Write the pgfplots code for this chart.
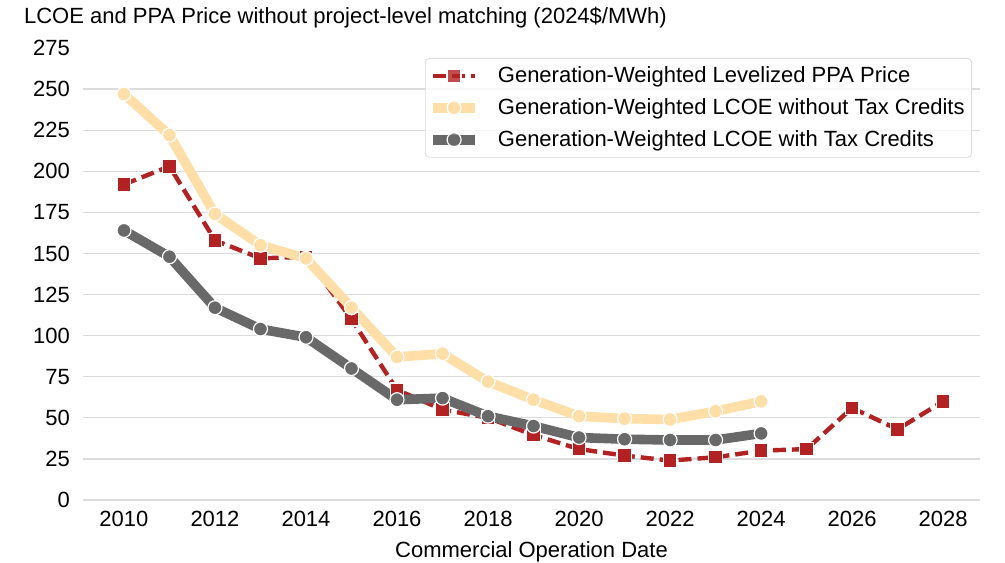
\documentclass[border=0pt]{standalone}
\usepackage{pgfplots}
\pgfplotsset{compat=1.18}
\usepackage{fontspec}
\setmainfont{Liberation Sans}

\definecolor{ppared}{HTML}{B22222}
\definecolor{lcoelight}{HTML}{FFDEA8}
\definecolor{lcoegrey}{HTML}{696969}
\definecolor{gridgrey}{HTML}{DCDCDC}

\begin{document}
\begin{tikzpicture}
\begin{axis}[
    scale only axis,
    width=448.5pt, height=226pt,
    xmin=2009.1, xmax=2028.81,
    ymin=0, ymax=275,
    xtick={2010,2012,...,2028},
    ytick={0,25,...,250},
    extra y ticks={275},
    extra y tick style={grid=none},
    ymajorgrids,
    grid style={gridgrey, line width=0.6pt},
    axis line style={draw=none},
    major tick length=0pt,
    tick label style={font=\fontsize{11}{13}\selectfont},
    yticklabel style={xshift=-3pt},
    xticklabel style={yshift=-2pt},
    /pgf/number format/assume math mode=true,
    /pgf/number format/1000 sep={},
    xlabel={Commercial Operation Date},
    xlabel style={font=\fontsize{11}{13}\selectfont, yshift=-0.5pt},
    title={LCOE and PPA Price without project-level matching (2024\$/MWh)},
    title style={at={(0,1)}, anchor=west, xshift=-33pt, yshift=9pt,
                 font=\fontsize{11}{13}\selectfont},
    legend style={at={(1,1)}, anchor=north east, xshift=-4pt, yshift=-5pt,
                  draw=gridgrey, rounded corners=2pt, fill=white,
                  fill opacity=0.8, text opacity=1,
                  font=\fontsize{11}{13}\selectfont, row sep=2.5pt,
                  inner xsep=1.5pt,
                  /tikz/every odd column/.append style={column sep=7pt}},
    legend cell align=left,
    legend image code/.code={
        \draw[mark repeat=2, mark phase=2]
          plot coordinates {(0pt,0pt) (10.5pt,0pt) (21pt,0pt)};},
    every axis plot/.append style={line join=round},
]
\coordinate (LL) at (rel axis cs:0,0);
\coordinate (UR) at (rel axis cs:1,1);
% PPA price
\addplot[ppared, line width=2.2pt, dash pattern=on 6.5pt off 3pt,
    mark=square*, mark size=3.4pt,
    mark options={solid, fill=ppared, draw=white, line width=0.6pt}]
  coordinates {
    (2010,192) (2011,203) (2012,158) (2013,147) (2014,148) (2015,110)
    (2016,67) (2017,55) (2018,50) (2019,39.5) (2020,31) (2021,27)
    (2022,24) (2023,26) (2024,30) (2025,31) (2026,56) (2027,43) (2028,60)};
\addlegendentry{Generation-Weighted Levelized PPA Price}
% LCOE without tax credits
\addplot[lcoelight, line width=4.8pt,
    mark=*, mark size=3.5pt,
    mark options={fill=lcoelight, draw=white, line width=0.6pt}]
  coordinates {
    (2010,247) (2011,222) (2012,174) (2013,155) (2014,147) (2015,117)
    (2016,87) (2017,89) (2018,72) (2019,61) (2020,51) (2021,49.5)
    (2022,49) (2023,54) (2024,60)};
\addlegendentry{Generation-Weighted LCOE without Tax Credits}
% LCOE with tax credits
\addplot[lcoegrey, line width=4.8pt,
    mark=*, mark size=3.5pt,
    mark options={fill=lcoegrey, draw=white, line width=0.6pt}]
  coordinates {
    (2010,164) (2011,148) (2012,117) (2013,104) (2014,99) (2015,80)
    (2016,61) (2017,62) (2018,51) (2019,45) (2020,38) (2021,37)
    (2022,36.5) (2023,36.5) (2024,40.5)};
\addlegendentry{Generation-Weighted LCOE with Tax Credits}
\end{axis}
\pgfresetboundingbox
\path ([xshift=-41.5pt, yshift=-31pt]LL) rectangle ([xshift=12.5pt, yshift=24pt]UR);
\end{tikzpicture}
\end{document}
